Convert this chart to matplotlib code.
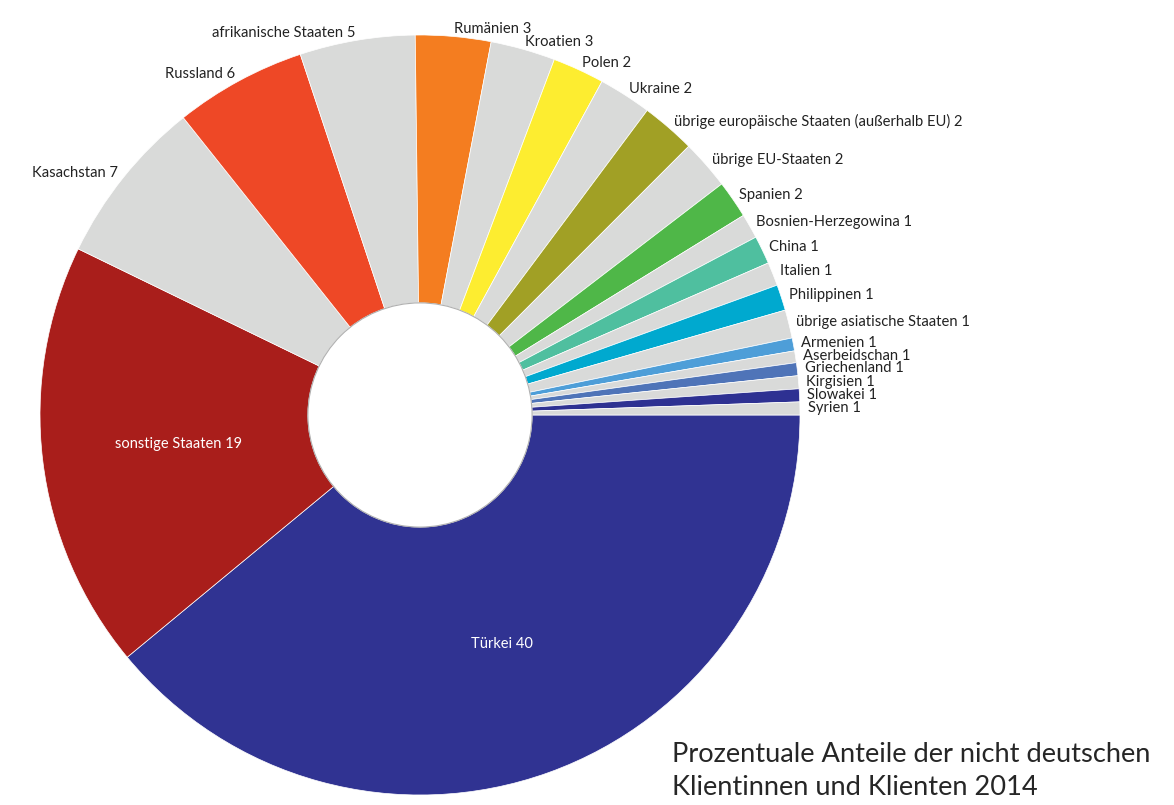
import numpy as np
import matplotlib
matplotlib.use('Agg')
import matplotlib.pyplot as plt

# countries in clockwise order, starting at 3 o'clock
countries = ['Türkei', 'sonstige Staaten', 'Kasachstan', 'Russland', 'afrikanische Staaten',
             'Rumänien', 'Kroatien', 'Polen', 'Ukraine',
             'übrige europäische Staaten (außerhalb EU)', 'übrige EU-Staaten', 'Spanien',
             'Bosnien-Herzegowina', 'China', 'Italien', 'Philippinen', 'übrige asiatische Staaten',
             'Armenien', 'Aserbeidschan', 'Griechenland', 'Kirgisien', 'Slowakei', 'Syrien']
# shares (percent)
shares = [39.0, 18.2, 7.1, 5.6, 4.9, 3.2, 2.75, 2.2, 2.25, 2.3, 2.1, 1.6,
          1.05, 1.2, 1.0, 1.1, 1.2, 0.55, 0.5, 0.55, 0.55, 0.55, 0.55]
# rounded values printed in the labels
shown = [40, 19, 7, 6, 5, 3, 3, 2, 2, 2, 2, 2, 1, 1, 1, 1, 1, 1, 1, 1, 1, 1, 1]

grey = '#d9dad9'
colors = ['#303392', '#a91e1b', grey, '#ee4826', grey, '#f47d20', grey, '#fded30', grey,
          '#a1a025', grey, '#4fb748', grey, '#4fbf9f', grey, '#00a9cf', grey,
          '#4e9ed8', grey, '#4f74b8', grey, '#2e3192', grey]
inside = ['Türkei', 'sonstige Staaten']

plt.rcParams['font.family'] = ['Lato', 'DejaVu Sans']

fig = plt.figure(figsize=(11.74, 8.05), dpi=100)
ax = fig.add_axes([40 / 1174, 10 / 805, 760 / 1174, 760 / 805])

wedges, _ = ax.pie(shares, colors=colors, startangle=0, counterclock=False,
                   wedgeprops=dict(width=0.705, edgecolor='white', linewidth=0.5))

# thin grey rim around the hole
ax.add_patch(plt.Circle((0, 0), 0.295, fill=False, edgecolor='#b0b0b0', linewidth=0.8))

for w, name, val in zip(wedges, countries, shown):
    mid = np.deg2rad((w.theta1 + w.theta2) / 2)
    label = f'{name} {val}'
    if name in inside:
        ax.text(0.64 * np.cos(mid), 0.64 * np.sin(mid), label, color='white',
                ha='center', va='center', fontsize=10.5)
    else:
        x, y = 1.02 * np.cos(mid), 1.02 * np.sin(mid)
        ax.text(x, y, label, color='#222222', fontsize=10.6,
                ha='left' if x > 0 else 'right', va='center')

ax.set_xlim(-1, 1)
ax.set_ylim(-1, 1)
ax.set_aspect('equal')
ax.axis('off')

fig.text(672 / 1174, 1 - 762 / 805, 'Prozentuale Anteile der nicht deutschen',
         fontsize=19.6, color='#262626', ha='left', va='baseline')
fig.text(672 / 1174, 1 - 795 / 805, 'Klientinnen und Klienten 2014',
         fontsize=19.6, color='#262626', ha='left', va='baseline')

fig.savefig('out.png', dpi=100)
